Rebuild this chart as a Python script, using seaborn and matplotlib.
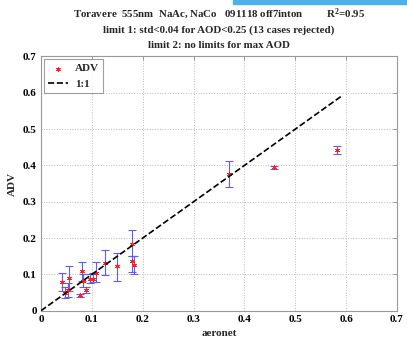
import matplotlib
matplotlib.use("Agg")
import matplotlib.pyplot as plt
import seaborn as sns
import pandas as pd
import numpy as np
from matplotlib.patches import Rectangle

# ---- data ----
aeronet = [0.041, 0.047, 0.053, 0.056, 0.076, 0.080, 0.083, 0.089, 0.097, 0.103,
           0.108, 0.126, 0.150, 0.178, 0.178, 0.182, 0.370, 0.459, 0.583]
adv = [0.079, 0.049, 0.056, 0.089, 0.042, 0.109, 0.083, 0.058, 0.088, 0.088,
       0.105, 0.131, 0.123, 0.185, 0.138, 0.125, 0.377, 0.395, 0.442]
adv_low = [0.053, 0.035, 0.038, 0.055, 0.038, 0.082, 0.065, 0.050, 0.075, 0.078,
           0.080, 0.097, 0.083, 0.150, 0.106, 0.100, 0.342, 0.391, 0.431]
adv_high = [0.105, 0.065, 0.075, 0.122, 0.046, 0.135, 0.100, 0.066, 0.100, 0.105,
            0.135, 0.168, 0.160, 0.223, 0.150, 0.150, 0.413, 0.399, 0.453]
line_x = [0.0, 0.59]
xticks = [0, 0.1, 0.2, 0.3, 0.4, 0.5, 0.6, 0.7]
yticks = [0, 0.1, 0.2, 0.3, 0.4, 0.5, 0.6, 0.7]
tick_labels = ["0", "0.1", "0.2", "0.3", "0.4", "0.5", "0.6", "0.7"]
title_lines = ["Toravere  555nm  NaAc, NaCo   091118 off7inton         R$^{2}$=0.95",
               "limit 1: std<0.04 for AOD<0.25 (13 cases rejected)",
               "limit 2: no limits for max AOD"]

sns.set_style("white")
plt.rcParams['font.family'] = ['Liberation Serif', 'DejaVu Serif']
plt.rcParams['font.weight'] = 'bold'
plt.rcParams['mathtext.fontset'] = 'custom'
plt.rcParams['mathtext.rm'] = 'Liberation Serif:bold'
plt.rcParams['mathtext.it'] = 'Liberation Serif:bold'
plt.rcParams['mathtext.bf'] = 'Liberation Serif:bold'

df = pd.DataFrame({"aeronet": aeronet, "ADV": adv, "lo": adv_low, "hi": adv_high})
line_df = pd.DataFrame({"x": line_x, "y": line_x})

fig = plt.figure(figsize=(4.07, 3.42), dpi=100)
ax = fig.add_axes([0.1007, 0.0915, 0.8747, 0.7433])

ax.errorbar(df["aeronet"], df["ADV"],
            yerr=[df["ADV"] - df["lo"], df["hi"] - df["ADV"]],
            fmt="none", ecolor="#5c5cf8", elinewidth=0.8, capsize=3, capthick=0.8,
            zorder=2)
sns.scatterplot(data=df, x="aeronet", y="ADV", ax=ax, marker=(6, 2, 0), s=10,
                color="#ff2020", edgecolor="#ff2020", linewidth=0.6, label="ADV",
                zorder=3)
sns.lineplot(data=line_df, x="x", y="y", ax=ax, color="black", linestyle="--",
             linewidth=1.2, label="1:1", zorder=4)

ax.set_xlim(0, 0.7)
ax.set_ylim(0, 0.7)
ax.set_xticks(xticks)
ax.set_yticks(yticks)
ax.set_xticklabels(tick_labels)
ax.set_yticklabels(tick_labels)
ax.tick_params(direction="in", length=3, width=0.6, labelsize=8, pad=3,
               top=True, right=True, colors="#888888", labelcolor="black")
for lab in ax.get_xticklabels() + ax.get_yticklabels():
    lab.set_fontweight("bold")
ax.grid(True, linestyle=":", color="#bbbbbb", linewidth=0.7)
for sp in ax.spines.values():
    sp.set_color("#999999")
    sp.set_linewidth(0.8)

ax.set_xlabel("aeronet", fontsize=8, fontweight="bold", labelpad=4)
ax.set_ylabel("ADV", fontsize=8, fontweight="bold", labelpad=4)

leg = ax.legend(loc="upper left", fontsize=8, frameon=True, fancybox=False,
                edgecolor="#888888", borderpad=0.4, handlelength=1.8,
                borderaxespad=0.25, labelspacing=0.5, handletextpad=0.6)
leg.get_frame().set_linewidth(0.8)
for t in leg.get_texts():
    t.set_fontweight("bold")

for i, yy in enumerate([14, 30, 45]):
    fig.text(0.538, 1 - yy / 342, title_lines[i], ha="center", va="center",
             fontsize=7.8, fontweight="bold")

fig.patches.append(Rectangle((233 / 407, 1 - 3.5 / 342), 174 / 407, 3.5 / 342,
                             transform=fig.transFigure, color="#4db2ea", zorder=0))

fig.savefig("out.png", dpi=100)
